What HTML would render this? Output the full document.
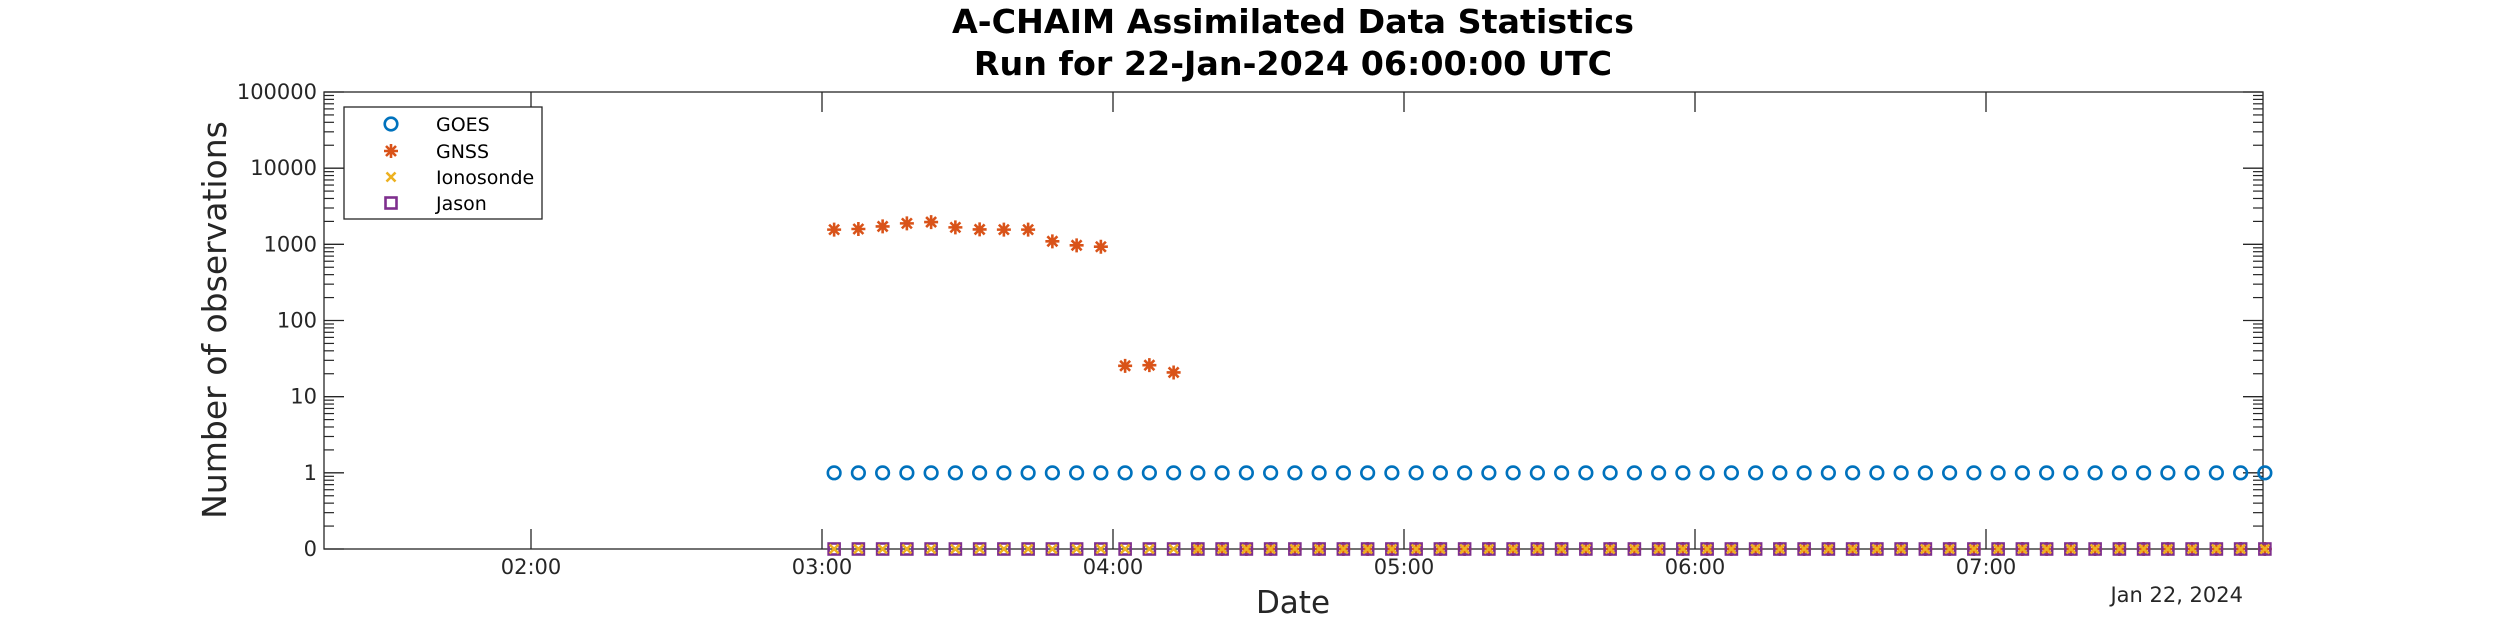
<!DOCTYPE html>
<html><head><meta charset="utf-8"><style>
html,body{margin:0;padding:0;background:#fff;}
svg{display:block;font-family:"Liberation Sans","DejaVu Sans",sans-serif;}
</style></head><body>
<svg id="chart" width="2500" height="625" viewBox="0 0 2500 625" xmlns="http://www.w3.org/2000/svg">
<rect width="2500" height="625" fill="#fff"/>
<text x="1293" y="33" text-anchor="middle" font-size="33.3" font-weight="bold" fill="#000" font-family="DejaVu Sans, sans-serif">A-CHAIM Assimilated Data Statistics</text>
<text x="1293" y="75" text-anchor="middle" font-size="33.3" font-weight="bold" fill="#000" font-family="DejaVu Sans, sans-serif">Run for 22-Jan-2024 06:00:00 UTC</text>
<g id="axes"></g>
<g id="marks"></g>
<text transform="translate(226,320) rotate(-90)" text-anchor="middle" font-size="33" fill="#262626" font-family="DejaVu Sans, sans-serif">Number of observations</text>
<text x="1293" y="613" text-anchor="middle" font-size="31" fill="#262626" font-family="DejaVu Sans, sans-serif">Date</text>
<text x="2243" y="602" text-anchor="end" font-size="21" fill="#262626" font-family="DejaVu Sans, sans-serif">Jan 22, 2024</text>
<g id="legend"></g>
</svg>
<script>
// ---- data ----
const startHour = 3 + 2.5/60;          // 03:02:30
const stepMin = 5;
const nPoints = 60;
const goesValues = new Array(60).fill(1);
const gnssValues = [1560,1590,1720,1885,1960,1670,1570,1560,1560,1095,970,930,25.4,25.9,20.8,
  0,0,0,0,0,0,0,0,0,0,0,0,0,0,0,0,0,0,0,0,0,0,0,0,0,0,0,0,0,0,0,0,0,0,0,0,0,0,0,0,0,0,0,0,0];
gnssValues.length = 60;
const ionosondeValues = new Array(60).fill(0);
const jasonValues = new Array(60).fill(0);
const xTickHours = [2,3,4,5,6,7];
const xTickLabels = ["02:00","03:00","04:00","05:00","06:00","07:00"];
const yTickDecades = [-1,0,1,2,3,4,5];
const yTickLabels = ["0","1","10","100","1000","10000","100000"];

// ---- axes ----
const L=324,R=2263,T=92,B=549;
const xMin = 3 - (822-L)/291, xMax = 3 + (R-822)/291;
const X = h => L + (h-xMin)/(xMax-xMin)*(R-L);
const Y = v => { const lv = v<=0 ? -1 : Math.log10(v); return B - (lv+1)/6*(B-T); };
const NS="http://www.w3.org/2000/svg";
function mk(tag, attrs, parent){ const e=document.createElementNS(NS,tag); for(const k in attrs) e.setAttribute(k,attrs[k]); parent.appendChild(e); return e; }
const ax=document.getElementById('axes');
const frame=mk('rect',{x:L,y:T,width:R-L,height:B-T,fill:'none',stroke:'#262626','stroke-width':1.3},ax);


xTickHours.forEach((h,i)=>{
  const x=X(h);
  const t1=mk('line',{x1:x,x2:x,y1:B,y2:B-20,stroke:'#262626','stroke-width':1.3},ax);
  
  
  mk('line',{x1:x,x2:x,y1:T,y2:T+20,stroke:'#262626','stroke-width':1.3},ax);
  const tx=mk('text',{x:x,y:574,'text-anchor':'middle','font-size':21,fill:'#262626','font-family':'DejaVu Sans, sans-serif'},ax);
  tx.textContent=xTickLabels[i];
  
  
});
yTickDecades.forEach((d,i)=>{
  const y=Y(Math.pow(10,d));
  const t1=mk('line',{x1:L,x2:L+20,y1:y,y2:y,stroke:'#262626','stroke-width':1.3},ax);
  
  
  mk('line',{x1:R,x2:R-20,y1:y,y2:y,stroke:'#262626','stroke-width':1.3},ax);
  const tx=mk('text',{x:317,y:y+7,'text-anchor':'end','font-size':21,fill:'#262626','font-family':'DejaVu Sans, sans-serif'},ax);
  tx.textContent=yTickLabels[i];
  
  
  if(d<5){ for(let m=2;m<=9;m++){ const ym=Y(m*Math.pow(10,d));
    mk('line',{x1:L,x2:L+10,y1:ym,y2:ym,stroke:'#262626','stroke-width':1.2},ax);
    mk('line',{x1:R,x2:R-10,y1:ym,y2:ym,stroke:'#262626','stroke-width':1.2},ax);}}
});
// ---- marks ----
const g=document.getElementById('marks');
const C={goes:'#0072BD',gnss:'#D95319',iono:'#EDB120',jason:'#7E2F8E'};
function circle(p,x,y){return mk('circle',{cx:x,cy:y,r:6.3,fill:'none',stroke:C.goes,'stroke-width':2.6},p);}
function star(p,x,y){const s=7,d=5;return mk('path',{d:`M${x-s},${y}H${x+s}M${x},${y-s}V${y+s}M${x-d},${y-d}L${x+d},${y+d}M${x-d},${y+d}L${x+d},${y-d}`,stroke:C.gnss,'stroke-width':2.6,fill:'none'},p);}
function cross(p,x,y){const d=4.5;return mk('path',{d:`M${x-d},${y-d}L${x+d},${y+d}M${x-d},${y+d}L${x+d},${y-d}`,stroke:C.iono,'stroke-width':2.6,fill:'none'},p);}
function square(p,x,y){return mk('rect',{x:x-5.5,y:y-5.5,width:11,height:11,fill:'none',stroke:C.jason,'stroke-width':2.6},p);}
for(let i=0;i<nPoints;i++){
  const x=X(startHour+i*stepMin/60);
  let e=circle(g,x,Y(goesValues[i]));
  
  
  e=star(g,x,Y(gnssValues[i]));
  
  
  e=square(g,x,Y(jasonValues[i]));
  
  
  e=cross(g,x,Y(ionosondeValues[i]));
  
  
}
// ---- legend ----
const lg=document.getElementById('legend');
const lb=mk('rect',{x:344,y:107,width:198,height:112,fill:'#fff',stroke:'#262626','stroke-width':1.3},lg);


const names=['GOES','GNSS','Ionosonde','Jason'], fns=[circle,star,cross,square], ys=[124,151,177,203];
names.forEach((n,i)=>{
  const eg=mk('g',{},lg);
  
  
  fns[i](eg,391,ys[i]);
  const t=mk('text',{x:436,y:ys[i]+7,'font-size':19,fill:'#000','font-family':'DejaVu Sans, sans-serif'},eg);
  t.textContent=n;
});
</script>
</body></html>
